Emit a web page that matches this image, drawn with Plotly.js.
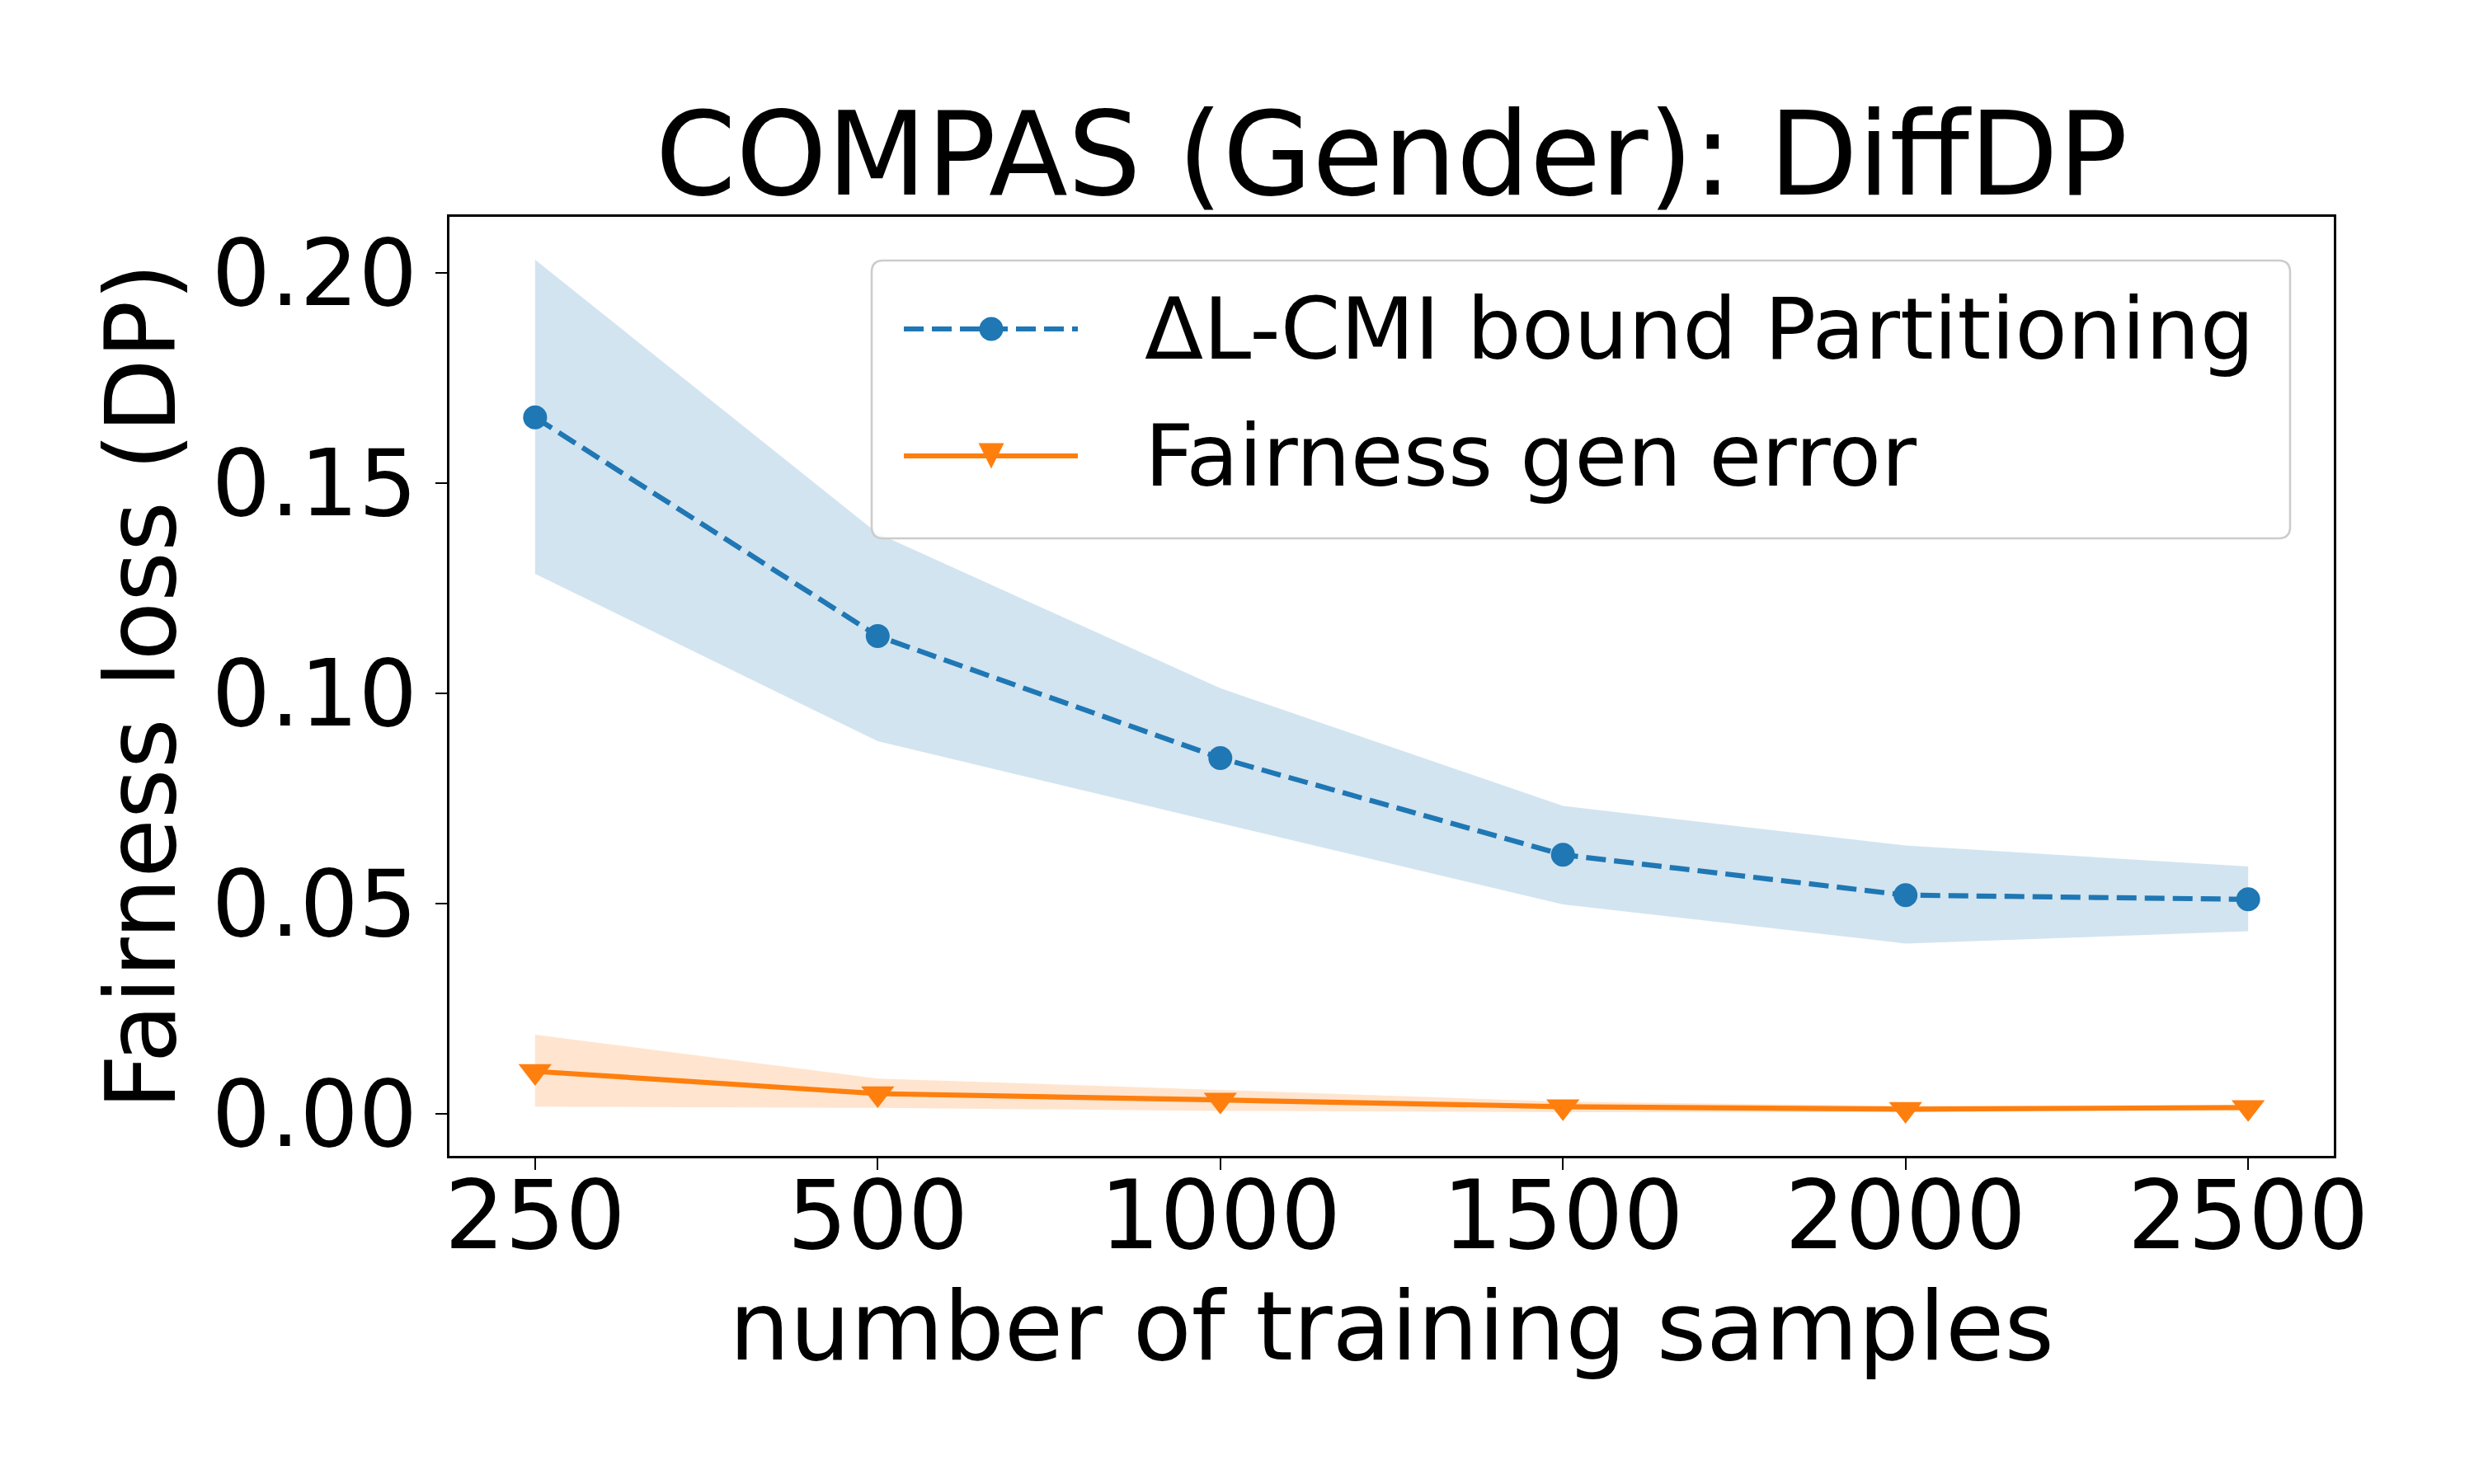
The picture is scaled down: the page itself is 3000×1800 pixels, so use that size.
<!DOCTYPE html>
<html>
<head>
<meta charset="utf-8">
<script src="https://cdn.plot.ly/plotly-3.0.1.min.js"></script>
<style>html,body{margin:0;padding:0;background:#fff;}#chart{width:3000px;height:1800px;}</style>
</head>
<body>
<div id="chart"></div>
<script>
// ---- data ----
var categories = ['250', '500', '1000', '1500', '2000', '2500'];
var boundMean  = [0.1656, 0.1136, 0.0846, 0.0616, 0.0520, 0.0510];
var boundUpper = [0.2031, 0.1380, 0.1012, 0.0732, 0.0638, 0.0588];
var boundLower = [0.1284, 0.0886, 0.0691, 0.0498, 0.0405, 0.0434];
var genMean    = [0.0101, 0.0048, 0.0033, 0.0017, 0.0011, 0.0015];
var genUpper   = [0.0188, 0.0084, 0.0057, 0.0029, 0.0019, 0.0021];
var genLower   = [0.0017, 0.0014, 0.0007, 0.0004, 0.0004, 0.0009];
var yTickVals  = [0.00, 0.05, 0.10, 0.15, 0.20];
var seriesNames = ['\u0394L-CMI bound Partitioning', 'Fairness gen error'];

var BLUE = '#1f77b4', ORANGE = '#ff7f0e';
var FONT = 'DejaVu Sans, Liberation Sans, sans-serif';

// ---- geometry (pixels) ----
var W = 3000, H = 1800;
var PL = 545, PR = 2830, PT = 263, PB = 1402;
function px(x) { return (x - PL) / (PR - PL); }
function py(y) { return (PB - y) / (PB - PT); }

var traces = [
  {x: categories, y: boundUpper, type: 'scatter', mode: 'lines', line: {width: 0, color: BLUE}, showlegend: false, hoverinfo: 'skip'},
  {x: categories, y: boundLower, type: 'scatter', mode: 'lines', line: {width: 0, color: BLUE}, fill: 'tonexty', fillcolor: 'rgba(31,119,180,0.2)', showlegend: false, hoverinfo: 'skip'},
  {x: categories, y: genUpper, type: 'scatter', mode: 'lines', line: {width: 0, color: ORANGE}, showlegend: false, hoverinfo: 'skip'},
  {x: categories, y: genLower, type: 'scatter', mode: 'lines', line: {width: 0, color: ORANGE}, fill: 'tonexty', fillcolor: 'rgba(255,127,14,0.2)', showlegend: false, hoverinfo: 'skip'},
  {x: categories, y: boundMean, name: seriesNames[0], type: 'scatter', mode: 'lines+markers',
   line: {color: BLUE, width: 6.2, dash: '24px,10px'}, marker: {symbol: 'circle', size: 29, color: BLUE}, showlegend: false},
  {x: categories, y: genMean, name: seriesNames[1], type: 'scatter', mode: 'lines+markers',
   line: {color: ORANGE, width: 6.2}, marker: {symbol: 'triangle-down', size: 35, color: ORANGE}, showlegend: false}
];

// ---- legend drawn as shapes + annotations ----
var LX0 = 1057, LX1 = 2777, LY0 = 316, LY1 = 653, R = 14;
function rr(x0, y0, x1, y1, r) {
  var a = function (x, y) { return px(x) + ',' + py(y); };
  return 'M' + a(x0 + r, y0) + ' L' + a(x1 - r, y0) + ' Q' + a(x1, y0) + ' ' + a(x1, y0 + r) +
         ' L' + a(x1, y1 - r) + ' Q' + a(x1, y1) + ' ' + a(x1 - r, y1) +
         ' L' + a(x0 + r, y1) + ' Q' + a(x0, y1) + ' ' + a(x0, y1 - r) +
         ' L' + a(x0, y0 + r) + ' Q' + a(x0, y0) + ' ' + a(x0 + r, y0) + ' Z';
}
var ROW1 = 399, ROW2 = 553, HX0 = 1096, HX1 = 1307, HM = 1202;
var triW = 31, triH = 31;
var shapes = [
  {type: 'path', xref: 'paper', yref: 'paper', path: rr(LX0, LY0, LX1, LY1, R),
   fillcolor: 'rgba(255,255,255,0.8)', line: {color: '#cccccc', width: 2.6}, layer: 'above'},
  {type: 'line', xref: 'paper', yref: 'paper', x0: px(HX0), x1: px(HX1), y0: py(ROW1), y1: py(ROW1),
   line: {color: BLUE, width: 6.2, dash: '24px,10px'}, layer: 'above'},
  {type: 'circle', xref: 'paper', yref: 'paper', x0: px(HM - 14.5), x1: px(HM + 14.5), y0: py(ROW1 - 14.5), y1: py(ROW1 + 14.5),
   fillcolor: BLUE, line: {width: 0}, layer: 'above'},
  {type: 'line', xref: 'paper', yref: 'paper', x0: px(HX0), x1: px(HX1), y0: py(ROW2), y1: py(ROW2),
   line: {color: ORANGE, width: 6.2}, layer: 'above'},
  {type: 'path', xref: 'paper', yref: 'paper',
   path: 'M' + px(HM - triW / 2) + ',' + py(ROW2 - triH / 2) + ' L' + px(HM + triW / 2) + ',' + py(ROW2 - triH / 2) +
         ' L' + px(HM) + ',' + py(ROW2 + triH / 2) + ' Z',
   fillcolor: ORANGE, line: {width: 0}, layer: 'above'}
];
var annotations = [
  {xref: 'paper', yref: 'paper', x: px(1386), y: py(ROW1), xanchor: 'left', yanchor: 'middle', showarrow: false,
   text: seriesNames[0], font: {family: FONT, size: 104, color: '#000'}},
  {xref: 'paper', yref: 'paper', x: px(1386), y: py(ROW2), xanchor: 'left', yanchor: 'middle', showarrow: false,
   text: seriesNames[1], font: {family: FONT, size: 104, color: '#000'}}
];

var layout = {
  width: W, height: H,
  margin: {l: PL, r: W - PR, t: PT, b: H - PB, pad: 0},
  paper_bgcolor: '#fff', plot_bgcolor: '#fff',
  font: {family: FONT, color: '#000'},
  showlegend: false,
  title: {text: 'COMPAS (Gender): DiffDP', font: {family: FONT, size: 140, color: '#000'},
          xref: 'paper', x: 0.5, xanchor: 'center', yref: 'container', y: 1 - 236 / H, yanchor: 'bottom'},
  xaxis: {type: 'category', range: [-0.25, 5.25], showgrid: false, zeroline: false,
          showline: true, mirror: true, linecolor: '#000', linewidth: 2.6,
          ticks: 'outside', ticklen: 14, tickwidth: 2.2, tickcolor: '#000',
          ticklabelstandoff: -43,
          tickfont: {family: FONT, size: 115, color: '#000'},
          title: {text: 'number of training samples', font: {family: FONT, size: 116, color: '#000'}, standoff: 0}},
  yaxis: {range: [-0.0100, 0.2133], showgrid: false, zeroline: false,
          showline: true, mirror: true, linecolor: '#000', linewidth: 2.6,
          ticks: 'outside', ticklen: 14, tickwidth: 2.2, tickcolor: '#000',
          tickvals: yTickVals, tickformat: '.2f',
          tickfont: {family: FONT, size: 112, color: '#000'},
          title: {text: 'Fairness loss (DP)', font: {family: FONT, size: 117, color: '#000'}, standoff: 5}},
  shapes: shapes,
  annotations: annotations
};

Plotly.newPlot('chart', traces, layout, {staticPlot: true, displayModeBar: false});
</script>
</body>
</html>
